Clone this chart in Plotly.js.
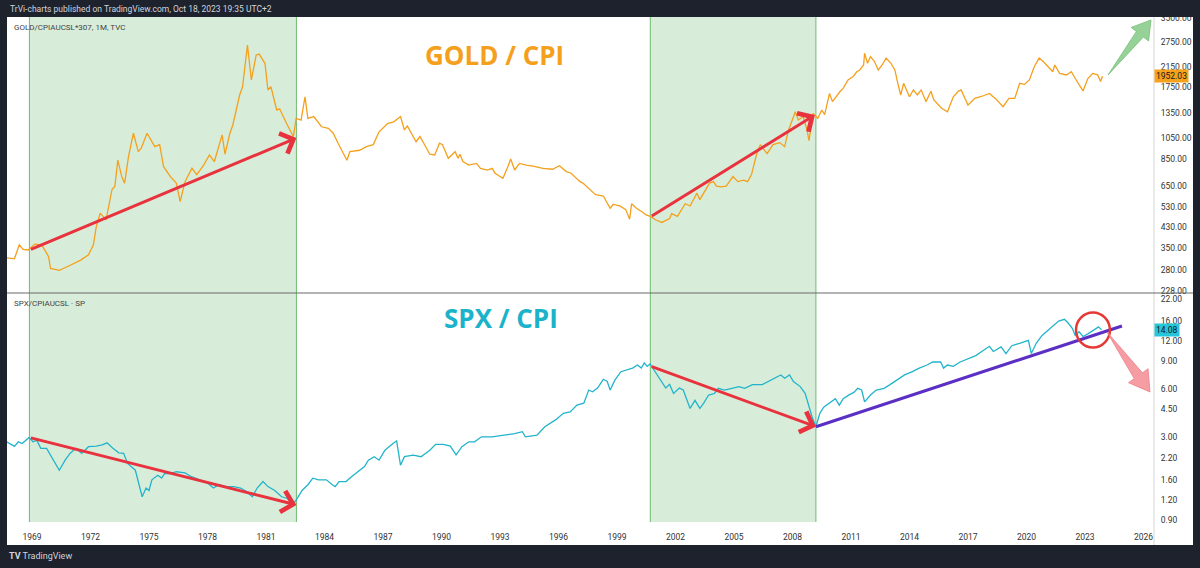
<!DOCTYPE html>
<html>
<head>
<meta charset="utf-8">
<script src="https://cdn.plot.ly/plotly-3.0.1.min.js"></script>
<style>html,body{margin:0;padding:0;background:#1e222d;}#chart{width:1200px;height:568px;}</style>
</head>
<body>
<div id="chart"></div>
<script>
// ---- data (decimal years) ----
const goldYear = [1967.7,1968.1,1968.35,1968.55,1968.8,1969.15,1969.5,1969.85,1969.95,1970.4,1970.8,1971.5,1971.9,1972.15,1972.3,1972.5,1972.8,1973.1,1973.25,1973.4,1973.6,1973.75,1973.95,1974.2,1974.45,1974.6,1974.9,1975.05,1975.3,1975.55,1975.75,1976.1,1976.4,1976.6,1976.85,1977.2,1977.45,1977.8,1978.1,1978.35,1978.75,1978.9,1979.15,1979.3,1979.65,1979.8,1980.05,1980.25,1980.5,1980.65,1980.95,1981.1,1981.25,1981.55,1981.7,1982.05,1982.4,1982.55,1982.8,1983.0,1983.15,1983.45,1983.85,1984.2,1984.45,1984.7,1985.15,1985.3,1985.8,1986.15,1986.5,1986.8,1987.25,1987.55,1987.9,1988.1,1988.25,1988.7,1988.9,1989.4,1989.65,1989.9,1990.05,1990.35,1990.7,1990.85,1990.95,1991.1,1991.4,1991.8,1992.0,1992.35,1992.6,1992.75,1993.15,1993.4,1993.55,1993.75,1994.0,1994.35,1994.7,1995.2,1995.7,1996.05,1996.4,1996.65,1997.1,1997.25,1997.6,1997.9,1998.3,1998.65,1998.8,1999.15,1999.45,1999.65,1999.75,2000.0,2000.3,2000.5,2000.7,2001.0,2001.3,2001.7,2001.8,2002.1,2002.5,2002.75,2003.1,2003.25,2003.75,2003.95,2004.1,2004.35,2004.6,2004.95,2005.2,2005.5,2005.7,2005.9,2006.15,2006.35,2006.7,2007.0,2007.35,2007.6,2007.8,2008.15,2008.3,2008.55,2008.75,2008.85,2009.05,2009.3,2009.5,2009.65,2009.9,2010.05,2010.45,2010.6,2010.85,2011.1,2011.3,2011.45,2011.65,2011.7,2011.85,2012.0,2012.2,2012.4,2012.6,2012.8,2013.05,2013.25,2013.4,2013.55,2013.7,2014.0,2014.2,2014.4,2014.6,2014.85,2015.1,2015.25,2015.65,2015.95,2016.25,2016.5,2016.65,2017.0,2017.35,2017.65,2018.1,2018.4,2018.8,2019.1,2019.4,2019.65,2019.9,2020.15,2020.4,2020.65,2020.85,2021.1,2021.35,2021.45,2021.7,2022.05,2022.3,2022.55,2022.9,2023.15,2023.4,2023.65,2023.8,2023.9];
const goldValue = [317,314,361,345,343,364,361,321,285,280,290,310,327,361,433,496,464,627,650,843,715,670,873,1104,918,950,1104,1050,965,985,790,715,670,557,680,777,730,803,888,830,1086,895,1104,1199,1619,1759,2672,1882,2417,2440,2224,1703,1759,1393,1410,1220,1068,1282,1260,1591,1282,1305,1178,1160,1104,999,843,918,931,965,985,1120,1220,1238,1305,1141,1187,1014,1068,895,888,999,985,859,918,859,895,831,803,816,777,764,777,740,704,790,853,764,816,803,795,777,770,797,752,740,680,670,627,597,589,521,541,533,514,467,545,521,502,487,480,463,452,470,494,480,545,533,606,568,670,680,650,645,650,715,680,690,680,730,888,985,900,985,1005,965,1141,1369,1260,1305,1141,1024,1347,1282,1393,1330,1645,1515,1680,1730,1882,1945,2043,2080,2186,2458,2224,2376,2268,2080,2186,2343,2224,2080,1820,1619,1820,1591,1703,1619,1703,1515,1680,1540,1417,1369,1591,1680,1703,1464,1565,1591,1645,1565,1440,1565,1565,1820,1800,1882,2149,2343,2268,2149,2043,2186,2010,1978,2043,1882,1686,1908,2010,1980,1852,1952.03];

const spxYear = [1967.7,1967.9,1968.1,1968.3,1968.5,1968.85,1969.05,1969.25,1969.45,1969.75,1970.0,1970.4,1970.7,1970.95,1971.25,1971.55,1971.9,1972.3,1972.6,1972.85,1973.15,1973.45,1973.7,1973.9,1974.3,1974.65,1974.85,1975.0,1975.15,1975.45,1975.65,1975.8,1976.1,1976.4,1976.85,1977.15,1977.6,1978.0,1978.3,1978.6,1978.95,1979.35,1979.7,1980.0,1980.3,1980.55,1980.85,1981.1,1981.45,1981.8,1982.1,1982.35,1982.55,1982.85,1983.15,1983.4,1983.7,1984.1,1984.4,1984.55,1984.75,1985.1,1985.4,1985.7,1986.05,1986.25,1986.55,1986.8,1987.1,1987.5,1987.7,1987.9,1988.1,1988.55,1988.95,1989.4,1989.7,1990.1,1990.45,1990.75,1991.05,1991.4,1991.7,1992.05,1992.6,1993.2,1993.75,1994.15,1994.3,1994.9,1995.3,1995.85,1996.25,1996.6,1996.95,1997.3,1997.55,1997.75,1998.0,1998.3,1998.5,1998.65,1998.9,1999.2,1999.5,1999.8,2000.05,2000.25,2000.4,2000.55,2000.7,2000.9,2001.1,2001.25,2001.5,2001.7,2001.9,2002.2,2002.4,2002.75,2003.0,2003.25,2003.45,2003.7,2004.0,2004.2,2004.5,2004.9,2005.25,2005.55,2005.95,2006.45,2006.75,2007.1,2007.4,2007.6,2007.85,2008.05,2008.25,2008.4,2008.65,2008.75,2008.85,2009.0,2009.2,2009.4,2009.6,2009.9,2010.2,2010.4,2010.6,2010.9,2011.15,2011.35,2011.55,2011.7,2012.0,2012.3,2012.7,2013.0,2013.35,2013.75,2014.15,2014.5,2014.9,2015.2,2015.6,2015.75,2015.95,2016.25,2016.6,2017.0,2017.4,2017.8,2018.1,2018.3,2018.7,2018.95,2019.25,2019.65,2019.95,2020.1,2020.25,2020.5,2020.8,2021.1,2021.4,2021.65,2021.95,2022.15,2022.35,2022.5,2022.7,2022.9,2023.15,2023.45,2023.7,2023.85];
const spxValue = [2.79,2.70,2.61,2.79,2.72,2.97,2.79,2.85,2.54,2.54,2.25,1.85,2.14,2.36,2.54,2.36,2.60,2.62,2.67,2.75,2.54,2.38,2.36,2.04,1.85,1.26,1.43,1.38,1.61,1.72,1.65,1.76,1.76,1.81,1.78,1.69,1.61,1.54,1.43,1.50,1.46,1.46,1.43,1.36,1.26,1.43,1.57,1.46,1.38,1.26,1.23,1.12,1.20,1.38,1.50,1.65,1.61,1.61,1.50,1.46,1.57,1.57,1.69,1.81,1.95,2.14,2.25,2.14,2.47,2.71,2.83,1.99,2.25,2.30,2.25,2.47,2.69,2.69,2.62,2.31,2.60,2.79,2.79,3.00,3.00,3.07,3.14,3.23,3.00,3.07,3.47,3.83,4.21,4.30,4.74,4.88,5.90,5.75,6.07,6.89,6.67,5.90,6.83,7.69,7.90,8.10,8.47,8.10,8.74,8.30,8.60,7.90,7.15,6.67,6.07,6.40,5.61,6.07,5.90,4.52,5.08,4.52,4.88,5.49,5.61,6.05,5.90,6.05,6.20,6.05,6.38,6.38,6.67,7.00,7.34,7.00,7.34,6.67,6.38,6.20,5.62,5.08,4.52,4.01,3.47,4.21,4.60,4.88,5.20,4.74,5.20,5.50,5.70,6.05,5.90,4.97,5.49,5.90,6.05,6.38,6.83,7.34,7.69,8.10,8.47,8.85,8.85,8.10,8.47,8.30,8.85,9.25,9.70,10.5,11.1,10.3,11.0,10.0,11.2,11.6,11.9,12.1,10.0,11.6,13.0,14.0,15.2,16.0,16.4,15.5,14.4,13.0,13.7,12.8,13.3,14.0,14.7,14.08];

const goldTicks = [228,280,350,430,530,650,850,1050,1350,1750,2150,2750,3500];
const spxTicks = [0.9,1.2,1.6,2.2,3,4.5,6,9,12,16,22];
const shadeStart = [1968.87, 2000.71];
const shadeEnd = [1982.56, 2009.2];
const goldLast = 1952.03, spxLast = 14.08;
const xTickStart = 1969, xTickStepYears = 3;

// ---- helpers ----
function d(y){ const yr=Math.floor(y); const ms=Date.UTC(yr,0,1)+(y-yr)*365.25*86400000; return new Date(ms).toISOString().slice(0,10); }
const L = Math.log10;
// pixel -> paper (plot area: x 7..1154, y 17..522)
const PL=7, PR=1154, PT=17, PB=522;
function px(x){ return (x-PL)/(PR-PL); }
function py(y){ return (PB-y)/(PB-PT); }
function path(pts){ return 'M'+pts.map(p=>px(p[0]).toFixed(5)+','+py(p[1]).toFixed(5)).join(' L')+' Z'; }

const split = py(293);
const DARK = '#1e222d';
const ORANGE = '#f5a01c';
const CYAN = '#22b4cb';
const RED = '#e8323e';

const traces = [
  {x: goldYear.map(d), y: goldValue, type:'scatter', mode:'lines', line:{color:ORANGE, width:1.3}, xaxis:'x', yaxis:'y', hoverinfo:'skip'},
  {x: spxYear.map(d), y: spxValue, type:'scatter', mode:'lines', line:{color:CYAN, width:1.3}, xaxis:'x', yaxis:'y2', hoverinfo:'skip'}
];

const shapes = [
  {type:'rect', xref:'paper', yref:'paper', x0:0, x1:px(1193), y0:py(545), y1:1, fillcolor:'#ffffff', line:{width:0}, layer:'below'}
];
for (let i=0;i<shadeStart.length;i++){
  shapes.push({type:'rect', xref:'x', yref:'paper', x0:d(shadeStart[i]), x1:d(shadeEnd[i]), y0:0, y1:1, fillcolor:'rgba(76,175,80,0.22)', line:{width:0}, layer:'below'});
  shapes.push({type:'line', xref:'x', yref:'paper', x0:d(shadeStart[i]), x1:d(shadeStart[i]), y0:0, y1:1, line:{color:'#6dbb6f', width:1}, layer:'below'});
  shapes.push({type:'line', xref:'x', yref:'paper', x0:d(shadeEnd[i]), x1:d(shadeEnd[i]), y0:0, y1:1, line:{color:'#6dbb6f', width:1}, layer:'below'});
}
shapes.push({type:'line', xref:'paper', yref:'paper', x0:1, x1:1, y0:py(545), y1:1, line:{color:'#d6d6d6', width:1}, layer:'above'});
shapes.push({type:'line', xref:'paper', yref:'paper', x0:0, x1:px(1193), y0:split, y1:split, line:{color:'#6b6b6b', width:1.2}, layer:'above'});
// purple trend line (SPX pane) - shapes take raw values on log axes
shapes.push({type:'line', xref:'x', yref:'y2', x0:d(2009.2), y0:3.47, x1:d(2024.9), y1:14.9, line:{color:'#5b2fc4', width:3}, layer:'above'});
// red circle
shapes.push({type:'circle', xref:'x', yref:'y2', x0:d(2022.54), x1:d(2024.28), y0:10.9, y1:18.1, line:{color:'#e53935', width:2.5}, layer:'above'});
// green fat arrow
shapes.push({type:'path', xref:'paper', yref:'paper', path:path([[1108,75],[1136.4,31.4],[1131.2,27.4],[1151,20],[1148.6,41.0],[1143.4,37.0]]), fillcolor:'rgba(132,201,134,0.85)', line:{color:'rgba(110,185,112,0.9)', width:0.8}, layer:'above'});
// pink fat arrow
shapes.push({type:'path', xref:'paper', yref:'paper', path:path([[1107,332],[1134.2,378.6],[1128.5,382.7],[1150,392],[1148.1,368.7],[1142.4,372.8]]), fillcolor:'rgba(244,146,153,0.9)', line:{color:'rgba(236,120,128,0.9)', width:0.8}, layer:'above'});
// dark header cover
shapes.push({type:'rect', xref:'paper', yref:'paper', x0:-0.01, x1:1.05, y0:1, y1:py(-5), fillcolor:DARK, line:{width:0}, layer:'above'});

const redArrow = (tx,ty,hx,hy,yr) => ({xref:'x', yref:yr, axref:'x', ayref:yr, x:d(hx), y:L(hy), ax:d(tx), ay:L(ty), text:'', showarrow:true, arrowhead:4, arrowsize:1.4, arrowwidth:3, arrowcolor:RED, standoff:0, startstandoff:0});

const annotations = [
  redArrow(1968.87,343,1982.56,1053,'y'),
  redArrow(2000.71,478,2009.15,1325,'y'),
  redArrow(1968.87,2.97,1982.56,1.12,'y2'),
  redArrow(2000.71,8.34,2009.2,3.47,'y2'),
  {xref:'paper', yref:'paper', x:px(8), y:py(9), xanchor:'left', yanchor:'middle', text:'TrVi-charts published on TradingView.com, Oct 18, 2023 19:35 UTC+2', showarrow:false, font:{family:'Roboto', size:8.5, color:'#d1d4dc'}},
  {xref:'paper', yref:'paper', x:px(12), y:py(27), xanchor:'left', yanchor:'middle', text:'GOLD/CPIAUCSL*307, 1M, TVC', showarrow:false, font:{family:'Roboto', size:8, color:'#444'}},
  {xref:'paper', yref:'paper', x:px(12), y:py(303), xanchor:'left', yanchor:'middle', text:'SPX/CPIAUCSL · SP', showarrow:false, font:{family:'Roboto', size:8, color:'#444'}},
  {xref:'paper', yref:'paper', x:px(494), y:py(55), xanchor:'center', yanchor:'middle', text:'<b>GOLD / CPI</b>', showarrow:false, font:{family:'Open Sans', size:26, color:ORANGE}},
  {xref:'paper', yref:'paper', x:px(501), y:py(318), xanchor:'center', yanchor:'middle', text:'<b>SPX / CPI</b>', showarrow:false, font:{family:'Open Sans', size:26, color:'#1ab3c9'}},
  {xref:'paper', yref:'y', x:px(1154), y:L(goldLast), xanchor:'left', yanchor:'middle', text:goldLast.toFixed(2), showarrow:false, bgcolor:'#f7a21b', borderpad:1, font:{family:'Roboto', size:8.5, color:'#131722'}},
  {xref:'paper', yref:'y2', x:px(1154), y:L(spxLast), xanchor:'left', yanchor:'middle', text:spxLast.toFixed(2), showarrow:false, bgcolor:'#26c6da', borderpad:1, font:{family:'Roboto', size:8.5, color:'#131722'}},
  {xref:'paper', yref:'paper', x:px(7), y:py(556), xanchor:'left', yanchor:'middle', text:'<b>TV</b> TradingView', showarrow:false, font:{family:'Roboto', size:9, color:'#d1d4dc'}}
];

const layout = {
  width:1200, height:568,
  margin:{l:PL, r:1200-PR, t:PT, b:568-PB, pad:0},
  paper_bgcolor:DARK, plot_bgcolor:'#ffffff',
  showlegend:false,
  xaxis:{type:'date', anchor:'y2', domain:[0,1], range:[d(1967.72), d(2026.54)], tick0:xTickStart+'-01-01', dtick:'M'+(12*xTickStepYears), tickformat:'%Y', showgrid:false, zeroline:false, showline:false, ticks:'outside', ticklen:7, tickcolor:'rgba(0,0,0,0)', tickfont:{family:'Roboto', size:8.5, color:'#333'}},
  yaxis:{type:'log', domain:[split,1], anchor:'x', side:'right', range:[L(223), L(3535)], tickvals:goldTicks, ticktext:goldTicks.map(v=>v.toFixed(2)), showgrid:false, zeroline:false, ticks:'outside', ticklen:4, tickcolor:'rgba(0,0,0,0)', tickfont:{family:'Roboto', size:8.5, color:'#333'}},
  yaxis2:{type:'log', domain:[0,split], anchor:'x', side:'right', range:[L(0.875), L(24)], tickvals:spxTicks, ticktext:spxTicks.map(v=>v.toFixed(2)), showgrid:false, zeroline:false, ticks:'outside', ticklen:4, tickcolor:'rgba(0,0,0,0)', tickfont:{family:'Roboto', size:8.5, color:'#333'}},
  shapes:shapes,
  annotations:annotations
};

Plotly.newPlot('chart', traces, layout, {staticPlot:true, displayModeBar:false});
</script>
</body>
</html>
